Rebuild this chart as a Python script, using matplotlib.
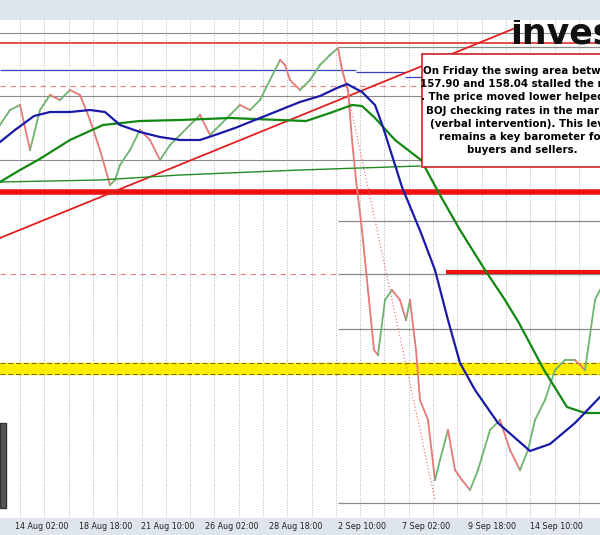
import matplotlib.pyplot as plt
import numpy as np
from matplotlib.patches import Rectangle

# bar index (0..600) and USDJPY price
price_x = [0, 10, 20, 30, 40, 50, 60, 70, 80, 90, 100, 110, 115, 120, 130, 140, 150, 160, 170, 180,
           190, 200, 210, 220, 230, 240, 250, 260, 270, 280, 285, 290, 300, 310, 320, 330, 338, 342,
           348, 352, 356, 362, 368, 374, 378, 385, 392, 400, 406, 410, 416, 420, 428, 435, 440, 448,
           455, 462, 470, 478, 490, 500, 510, 520, 528, 535, 545, 555, 565, 575, 585, 595, 600]
price_y = [157.25, 157.40, 157.45, 157.00, 157.40, 157.55, 157.50, 157.60, 157.55, 157.30, 157.00,
           156.65, 156.70, 156.85, 157.00, 157.20, 157.10, 156.90, 157.05, 157.15, 157.25, 157.35,
           157.15, 157.25, 157.35, 157.45, 157.40, 157.50, 157.70, 157.90, 157.85, 157.70, 157.60,
           157.70, 157.85, 157.95, 158.02, 157.80, 157.60, 157.10, 156.70, 156.20, 155.60, 155.00,
           154.95, 155.50, 155.60, 155.50, 155.30, 155.50, 155.00, 154.50, 154.30, 153.70, 153.90,
           154.20, 153.80, 153.70, 153.60, 153.80, 154.20, 154.30, 154.00, 153.80, 154.00, 154.30,
           154.50, 154.80, 154.90, 154.90, 154.80, 155.50, 155.60]

ma100_x = [0, 15, 34, 50, 70, 90, 105, 120, 140, 160, 180, 200, 215, 235, 260, 280, 300, 320, 337,
           347, 362, 375, 383, 402, 421, 435, 448, 460, 475, 498, 530, 550, 575, 600]
ma100_y = [157.08, 157.20, 157.34, 157.38, 157.38, 157.40, 157.38, 157.25, 157.18, 157.13, 157.10,
           157.10, 157.15, 157.22, 157.32, 157.40, 157.48, 157.54, 157.62, 157.66, 157.58, 157.45,
           157.23, 156.63, 156.17, 155.80, 155.30, 154.87, 154.60, 154.27, 153.99, 154.06, 154.27,
           154.53]

ma200_x = [0, 20, 38, 70, 103, 140, 180, 230, 280, 306, 330, 352, 362, 375, 395, 421, 440, 460,
           485, 505, 519, 544, 567, 585, 600]
ma200_y = [156.68, 156.80, 156.90, 157.10, 157.25, 157.29, 157.30, 157.32, 157.30, 157.29, 157.37,
           157.45, 157.44, 157.32, 157.10, 156.90, 156.55, 156.20, 155.80, 155.50, 155.27, 154.80,
           154.43, 154.37, 154.37]

slow_x = [0, 100, 180, 300, 420]
slow_y = [156.68, 156.70, 156.75, 156.80, 156.84]

trend_x = [0, 513]
trend_y = [156.12, 158.21]

tick_pos = [42, 106, 168, 232, 296, 362, 426, 492, 556]
tick_labels = ["14 Aug 02:00", "18 Aug 18:00", "21 Aug 10:00", "26 Aug 02:00", "28 Aug 18:00",
               "2 Sep 10:00", "7 Sep 02:00", "9 Sep 18:00", "14 Sep 10:00"]

note = ["On Friday the swing area between", "157.90 and 158.04 stalled the rally",
        ". The price moved lower helped by", "BOJ checking rates in the market",
        "(verbal intervention). This level", "remains a key barometer for",
        "buyers and sellers."]

fig = plt.figure(figsize=(6, 5.35), dpi=100)
fig.patch.set_facecolor("#dfe5ec")
ax = fig.add_axes([0, 17 / 535, 1, 498 / 535])
ax.set_xlim(0, 600)
ax.set_ylim(153.32, 158.30)
ax.set_facecolor("white")
for s in ax.spines.values():
    s.set_visible(False)

for gx in np.arange(20, 600, 24.3):
    ax.axvline(gx, color="#999999", lw=0.6, ls=(0, (1, 2)), zorder=0)

gray = "#8a8a8a"
ax.axhline(158.17, color=gray, lw=0.8)
ax.axhline(157.54, color=gray, lw=0.8)
ax.axhline(156.90, color=gray, lw=0.8)
ax.hlines([158.03, 156.29, 155.76, 155.21, 153.47], 338, 600, color=gray, lw=0.9)
ax.axhline(158.07, color="#e03030", lw=1.2)
ax.hlines(157.64, 0, 420, color="#f08080", lw=0.8, ls=(0, (5, 4)))
ax.hlines(155.76, 0, 336, color="#f08080", lw=0.8, ls=(0, (5, 4)))
ax.hlines(157.80, 0, 356, color="#3344bb", lw=0.9)
ax.hlines(157.78, 356, 405, color="#3344bb", lw=0.9)
ax.hlines(157.73, 405, 600, color="#3344bb", lw=0.9)
ax.axhline(156.58, color="#ee1111", lw=4)
ax.hlines(155.78, 446, 600, color="#ee1111", lw=3)
ax.axhspan(154.76, 154.87, color="#ffee00", zorder=1)
ax.axhline(154.87, color="#806000", lw=0.7, ls=(0, (5, 3)), zorder=2)
ax.axhline(154.76, color="#806000", lw=0.7, ls=(0, (5, 3)), zorder=2)

ax.plot(trend_x, trend_y, color="#e02020", lw=1.3)
ax.plot([338, 435], [158.02, 153.50], color="#f06060", lw=0.8, ls=(0, (1, 2)))

for i in range(len(price_x) - 1):
    up = price_y[i + 1] >= price_y[i]
    ax.plot(price_x[i:i + 2], price_y[i:i + 2], color="#6fb36f" if up else "#e87878", lw=1.3)

ax.plot(slow_x, slow_y, color="#228b22", lw=1.0)
ax.plot(ma200_x, ma200_y, color="#118811", lw=1.6)
ax.plot(ma100_x, ma100_y, color="#1a1aa8", lw=1.6)

ax.add_patch(Rectangle((422, 156.83), 200, 1.13, facecolor="white", edgecolor="#cc2222", lw=1.2, zorder=5))
for k, line in enumerate(note):
    ax.text(522, 157.79 - k * 0.132, line, ha="center", va="center", fontsize=7.4,
            fontweight="bold", zorder=6, clip_on=True)

ax.text(510, 158.17, "inves", fontsize=25, fontweight="bold", color="#111111", va="center", zorder=6, clip_on=True)
ax.add_patch(Rectangle((0, 153.42), 6, 0.85, facecolor="#555555", edgecolor="#333333", zorder=4))

ax.set_xticks(tick_pos)
ax.set_xticklabels(tick_labels, fontsize=5.8, color="#222222")
ax.tick_params(axis="x", length=0, pad=3)
ax.set_yticks([])

fig.savefig("out.png", dpi=100)
